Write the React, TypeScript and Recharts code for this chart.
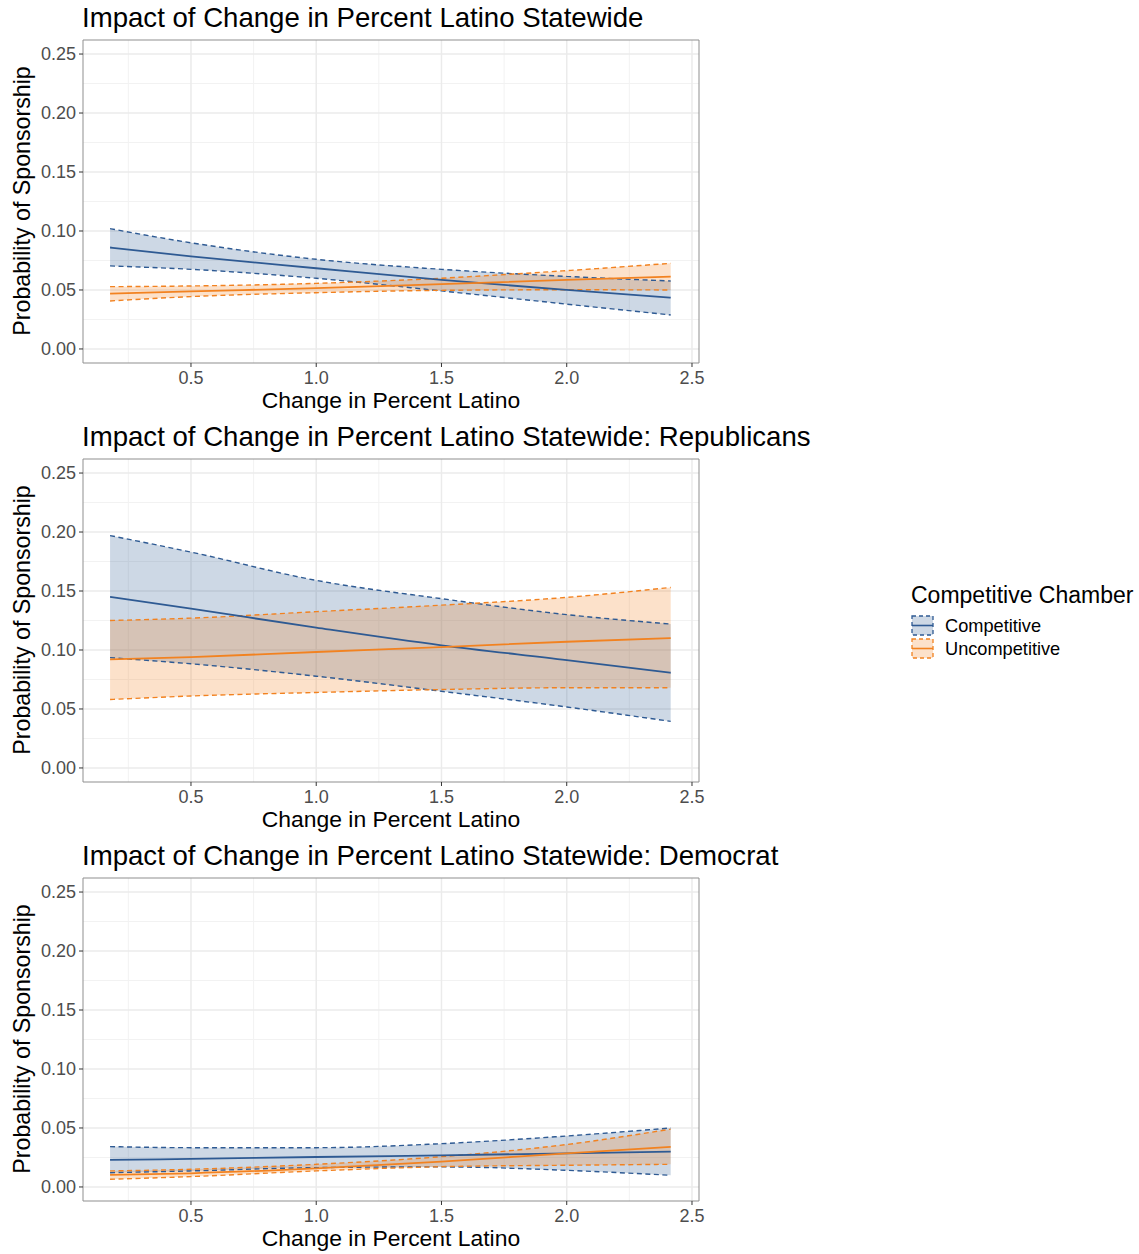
import React from 'react';
import {
  ComposedChart,
  Area,
  Line,
  XAxis,
  YAxis,
  CartesianGrid,
  ReferenceArea,
} from 'recharts';

// x positions where the predictions are read
const xs = [0.177, 0.5, 1.0, 1.5, 2.0, 2.415];

// Panel 1: all legislators
const compHi1 = [0.102, 0.09, 0.076, 0.0675, 0.0615, 0.0576];
const compFit1 = [0.086, 0.0785, 0.0684, 0.0585, 0.05, 0.0435];
const compLo1 = [0.0704, 0.0675, 0.0599, 0.0492, 0.038, 0.0288];
const uncHi1 = [0.0528, 0.0534, 0.0556, 0.06, 0.0664, 0.0726];
const uncFit1 = [0.0469, 0.0488, 0.0515, 0.055, 0.0585, 0.0613];
const uncLo1 = [0.0407, 0.0444, 0.0477, 0.0497, 0.0502, 0.05];

// Panel 2: Republicans
const compHi2 = [0.197, 0.183, 0.159, 0.1435, 0.13, 0.122];
const compFit2 = [0.145, 0.135, 0.119, 0.104, 0.0915, 0.0807];
const compLo2 = [0.0935, 0.0883, 0.0778, 0.065, 0.0517, 0.0395];
const uncHi2 = [0.125, 0.127, 0.1325, 0.138, 0.1446, 0.153];
const uncFit2 = [0.092, 0.094, 0.0983, 0.1025, 0.107, 0.11];
const uncLo2 = [0.058, 0.061, 0.064, 0.0665, 0.068, 0.068];

// Panel 3: Democrats
const compHi3 = [0.0342, 0.0333, 0.0333, 0.0367, 0.0432, 0.05];
const compFit3 = [0.0229, 0.0238, 0.0254, 0.0268, 0.0285, 0.03];
const compLo3 = [0.0121, 0.0136, 0.0164, 0.017, 0.0141, 0.0099];
const uncHi3 = [0.0136, 0.015, 0.0192, 0.0257, 0.036, 0.049];
const uncFit3 = [0.0102, 0.0116, 0.0158, 0.0215, 0.0285, 0.0339];
const uncLo3 = [0.0065, 0.0088, 0.0136, 0.0172, 0.0184, 0.0192];

const xTicks = [0.5, 1.0, 1.5, 2.0, 2.5];
const xMinor = [0.25, 0.75, 1.25, 1.75, 2.25];
const yTicks = [0, 0.05, 0.1, 0.15, 0.2, 0.25];
const yMinor = [0.025, 0.075, 0.125, 0.175, 0.225];

const titles = [
  'Impact of Change in Percent Latino Statewide',
  'Impact of Change in Percent Latino Statewide: Republicans',
  'Impact of Change in Percent Latino Statewide: Democrat',
];
const legendTitle = 'Competitive Chamber';
const legendLabels = ['Competitive', 'Uncompetitive'];

const X_DOMAIN: [number, number] = [0.069, 2.528];
const Y_DOMAIN: [number, number] = [-0.0119, 0.2619];

const BLUE = '#2e5a93';
const ORANGE = '#f28220';
const FILL_OP = 0.24;
const FONT = '"Liberation Sans", Arial, Helvetica, sans-serif';

const build = (cHi: number[], cFit: number[], cLo: number[], uHi: number[], uFit: number[], uLo: number[]) =>
  xs.map((x, i) => ({
    x,
    compBand: [cLo[i], cHi[i]],
    compHi: cHi[i],
    compFit: cFit[i],
    compLo: cLo[i],
    uncBand: [uLo[i], uHi[i]],
    uncHi: uHi[i],
    uncFit: uFit[i],
    uncLo: uLo[i],
  }));

const panels = [
  build(compHi1, compFit1, compLo1, uncHi1, uncFit1, uncLo1),
  build(compHi2, compFit2, compLo2, uncHi2, uncFit2, uncLo2),
  build(compHi3, compFit3, compLo3, uncHi3, uncFit3, uncLo3),
];

const tickStyle = { fill: '#4d4d4d', fontSize: 18, fontFamily: FONT };

const Panel = ({ data, title, top }: { data: any[]; title: string; top: number }) => (
  <div style={{ position: 'absolute', left: 0, top, width: 720, height: 420 }}>
    <div
      style={{
        position: 'absolute',
        left: 82,
        top: 2,
        fontSize: 27.6,
        fontFamily: FONT,
        color: '#000',
        whiteSpace: 'nowrap',
        lineHeight: '32px',
      }}
    >
      {title}
    </div>
    <ComposedChart width={720} height={420} data={data} margin={{ top: 40, right: 21, bottom: 27, left: 0 }}>
      <CartesianGrid
        horizontalValues={yMinor}
        verticalValues={xMinor}
        stroke="#f2f2f2"
        strokeWidth={1}
        syncWithTicks={false}
      />
      <CartesianGrid
        horizontalValues={yTicks}
        verticalValues={xTicks}
        stroke="#ebebeb"
        strokeWidth={1.5}
        syncWithTicks={false}
      />
      <XAxis
        type="number"
        dataKey="x"
        domain={X_DOMAIN}
        ticks={xTicks}
        allowDataOverflow
        tickFormatter={(v: number) => v.toFixed(1)}
        tick={tickStyle}
        tickSize={4}
        tickMargin={4}
        axisLine={false}
        tickLine={{ stroke: '#333333' }}
        height={30}
      />
      <YAxis
        type="number"
        domain={Y_DOMAIN}
        ticks={yTicks}
        allowDataOverflow
        tickFormatter={(v: number) => v.toFixed(2)}
        tick={tickStyle}
        tickSize={4}
        tickMargin={3}
        axisLine={false}
        tickLine={{ stroke: '#333333' }}
        width={83}
      />
      <Area
        type="monotone"
        dataKey="compBand"
        fill={BLUE}
        fillOpacity={FILL_OP}
        stroke="none"
        isAnimationActive={false}
        activeDot={false}
      />
      <Line type="monotone" dataKey="compHi" stroke={BLUE} strokeWidth={1.4} strokeDasharray="5 3.5" dot={false} isAnimationActive={false} />
      <Line type="monotone" dataKey="compLo" stroke={BLUE} strokeWidth={1.4} strokeDasharray="5 3.5" dot={false} isAnimationActive={false} />
      <Area
        type="monotone"
        dataKey="uncBand"
        fill={ORANGE}
        fillOpacity={FILL_OP}
        stroke="none"
        isAnimationActive={false}
        activeDot={false}
      />
      <Line type="monotone" dataKey="uncHi" stroke={ORANGE} strokeWidth={1.4} strokeDasharray="5 3.5" dot={false} isAnimationActive={false} />
      <Line type="monotone" dataKey="uncLo" stroke={ORANGE} strokeWidth={1.4} strokeDasharray="5 3.5" dot={false} isAnimationActive={false} />
      <Line type="monotone" dataKey="compFit" stroke={BLUE} strokeWidth={1.8} dot={false} isAnimationActive={false} />
      <Line type="monotone" dataKey="uncFit" stroke={ORANGE} strokeWidth={1.8} dot={false} isAnimationActive={false} />
      <ReferenceArea
        x1={X_DOMAIN[0]}
        x2={X_DOMAIN[1]}
        y1={Y_DOMAIN[0]}
        y2={Y_DOMAIN[1]}
        fill="none"
        stroke="#8f8f8f"
        strokeWidth={1}
        ifOverflow="visible"
      />
    </ComposedChart>
    <div
      style={{
        position: 'absolute',
        left: 83,
        width: 616,
        top: 386,
        textAlign: 'center',
        fontSize: 22.9,
        fontFamily: FONT,
        lineHeight: '28px',
      }}
    >
      Change in Percent Latino
    </div>
    <div
      style={{
        position: 'absolute',
        left: 22 - 150,
        top: 201 - 14,
        width: 300,
        height: 28,
        lineHeight: '28px',
        textAlign: 'center',
        fontSize: 23.2,
        fontFamily: FONT,
        transform: 'rotate(-90deg)',
        whiteSpace: 'nowrap',
      }}
    >
      Probability of Sponsorship
    </div>
  </div>
);

const LegendKey = ({ color }: { color: string }) => (
  <svg width={24} height={22} style={{ display: 'block' }}>
    <rect x={1} y={1} width={21} height={19} fill={color} fillOpacity={FILL_OP} stroke={color} strokeWidth={1.3} strokeDasharray="4 3" />
    <line x1={1} y1={10.5} x2={22} y2={10.5} stroke={color} strokeWidth={1.6} />
  </svg>
);

export default function App() {
  return (
    <div style={{ position: 'absolute', left: 0, top: 0, width: 1139, height: 1254, background: '#fff', fontFamily: FONT }}>
      <Panel data={panels[0]} title={titles[0]} top={0} />
      <Panel data={panels[1]} title={titles[1]} top={419} />
      <Panel data={panels[2]} title={titles[2]} top={838} />
      <div style={{ position: 'absolute', left: 911, top: 581 }}>
        <div style={{ fontSize: 23, lineHeight: '28px', whiteSpace: 'nowrap' }}>{legendTitle}</div>
        <div style={{ marginTop: 6 }}>
          {legendLabels.map((lab, i) => (
            <div key={lab} style={{ display: 'flex', alignItems: 'center', height: 22, marginTop: i === 0 ? 0 : 1 }}>
              <LegendKey color={i === 0 ? BLUE : ORANGE} />
              <span style={{ marginLeft: 10, fontSize: 18.2, whiteSpace: 'nowrap', color: '#000' }}>{lab}</span>
            </div>
          ))}
        </div>
      </div>
    </div>
  );
}
